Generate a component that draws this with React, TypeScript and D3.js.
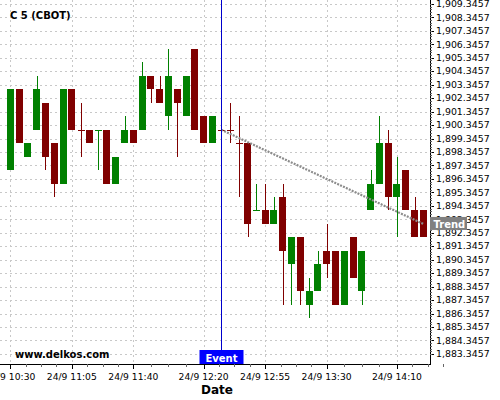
import React from "react";
import * as d3 from "d3";

// 5-minute candles, 24/9, C 5 (CBOT)
const times = [
  "10:30", "10:35", "10:40", "10:45", "10:50", "10:55", "11:00", "11:05",
  "11:10", "11:15", "11:20", "11:25", "11:30", "11:35", "11:40", "11:45",
  "11:50", "11:55", "12:00", "12:05", "12:10", "12:15", "12:20", "12:25",
  "12:30", "12:35", "12:40", "12:45", "12:50", "12:55", "13:00", "13:05",
  "13:10", "13:15", "13:20", "13:25", "13:30", "13:35", "13:40", "13:45",
  "13:50", "13:55", "14:00", "14:05", "14:10", "14:15", "14:20", "14:25",
];
const opens = [
  1897, 1903, 1898, 1900, 1902, 1899, 1896, 1903, 1900, 1900, 1900, 1900,
  1896, 1899, 1900, 1900, 1904, 1903, 1901, 1903, 1901, 1906, 1901, 1899,
  1900, 1900, 1899, 1899, 1894, 1894, 1893, 1895, 1890, 1892, 1887, 1888,
  1891, 1891, 1887, 1892, 1888, 1894, 1896, 1899, 1895, 1897, 1894, 1894,
];
const highs = [
  1903, 1903, 1899, 1904, 1902, 1899, 1903, 1903, 1902, 1900, 1900, 1900,
  1898, 1901, 1900, 1905, 1904, 1904, 1906, 1903, 1904, 1906, 1901, 1901,
  1900, 1902, 1901, 1899, 1896, 1896, 1895, 1896, 1892, 1892, 1889, 1891,
  1893, 1891, 1891, 1892, 1891, 1897, 1901, 1900, 1898, 1897, 1895, 1894,
];
const lows = [
  1897, 1899, 1898, 1900, 1897, 1895, 1896, 1900, 1898, 1899, 1897, 1896,
  1896, 1899, 1899, 1900, 1902, 1902, 1900, 1898, 1901, 1900, 1899, 1899,
  1900, 1899, 1895, 1892, 1894, 1893, 1893, 1887, 1887, 1887, 1886, 1888,
  1889, 1887, 1887, 1889, 1887, 1894, 1896, 1894, 1892, 1894, 1892, 1892,
];
const closes = [
  1903, 1899, 1899, 1903, 1898, 1896, 1903, 1900, 1900, 1899, 1900, 1896,
  1898, 1900, 1899, 1904, 1903, 1902, 1904, 1902, 1904, 1900, 1899, 1901,
  1900, 1900, 1899, 1893, 1894, 1893, 1894, 1891, 1892, 1888, 1888, 1890,
  1890, 1887, 1891, 1889, 1891, 1896, 1899, 1895, 1896, 1894, 1892, 1892,
];
// doji colour when open == close (true = up/green)
const dojiUp = { 10: true, 28: true };

const xTickLabels = ["10:30", "11:05", "11:40", "12:20", "12:55", "13:30", "14:10"];
const yTickValues = [
  1883.3457, 1884.3457, 1885.3457, 1886.3457, 1887.3457, 1888.3457, 1889.3457,
  1890.3457, 1891.3457, 1892.3457, 1893.3457, 1894.3457, 1895.3457, 1896.3457,
  1897.3457, 1898.3457, 1899.3457, 1900.3457, 1901.3457, 1902.3457, 1903.3457,
  1904.3457, 1905.3457, 1906.3457, 1907.3457, 1908.3457, 1909.3457,
];
const eventTime = "12:30";
const trendStart = { time: "12:30", value: 1900.0 };
const trendEnd = { time: "14:25", value: 1893.0 };

const parse = (s: string) => d3.timeParse("%Y-%m-%d %H:%M")("2014-09-24 " + s) as Date;

const GREEN = "#008000";
const RED = "#800000";
const FONT = "DejaVu Sans";

export default function App() {
  const width = 500;
  const height = 400;
  const plotRight = 430;
  const plotBottom = 364;

  const x = d3.scaleTime().domain([parse("10:30"), parse("14:25")]).range([10.3, 423.3]);
  const y = d3.scaleLinear().domain([1883.3457, 1909.3457]).range([353.9, 3.9]);

  const bodyW = 7;
  const fmt = d3.format(",.4f");

  const majors = xTickLabels.map(parse);
  const minors: Date[] = [];
  for (let i = 0; i < majors.length; i++) {
    const a = majors[i].getTime();
    const b = i < majors.length - 1 ? majors[i + 1].getTime() : a + 35 * 60000;
    for (let k = 1; k < 4; k++) minors.push(new Date(a + ((b - a) * k) / 4));
  }
  const yMinor = d3.range(1883.3457, 1909.35, 0.2).filter((v) => y(v) >= 0);

  const ex = Math.round(x(parse(eventTime))) + 0.5;

  return (
    <svg width={width} height={height} style={{ position: "absolute", left: 0, top: 0 }}>
      <rect x={0} y={0} width={width} height={height} fill="#fff" />
      {/* grid */}
      <g stroke="#c8c8c8" strokeDasharray="2,3" strokeWidth={1}>
        {yTickValues.map((v) => (
          <line key={v} x1={0} x2={plotRight} y1={Math.round(y(v)) + 0.5} y2={Math.round(y(v)) + 0.5} />
        ))}
        {majors.map((t, i) => (
          <line key={i} x1={Math.round(x(t)) + 0.5} x2={Math.round(x(t)) + 0.5} y1={0} y2={plotBottom} />
        ))}
      </g>
      {/* candles */}
      <g shapeRendering="crispEdges">
        {times.map((t, i) => {
          const cx = x(parse(t));
          const o = opens[i], c = closes[i];
          const up = c > o || (c === o && (dojiUp as any)[i]);
          const col = up ? GREEN : RED;
          const top = y(Math.max(o, c));
          const bot = y(Math.min(o, c));
          const wx = Math.round(cx) + 0.5;
          return (
            <g key={t}>
              <line x1={wx} x2={wx} y1={y(highs[i])} y2={y(lows[i])} stroke={col} strokeWidth={1} />
              {o === c ? (
                <rect x={Math.round(cx) - 3} y={Math.round(top) - 0.5} width={7} height={1.5} fill={col} />
              ) : (
                <rect x={Math.round(cx - bodyW / 2)} y={top} width={bodyW} height={bot - top} fill={col} />
              )}
            </g>
          );
        })}
      </g>
      {/* trend */}
      <line
        x1={x(parse(trendStart.time))}
        y1={y(trendStart.value)}
        x2={x(parse(trendEnd.time))}
        y2={y(trendEnd.value)}
        stroke="#8c8c8c"
        strokeWidth={2.2}
        strokeDasharray="2,1.2"
      />
      {/* event line */}
      <line x1={ex} x2={ex} y1={0} y2={plotBottom} stroke="#0000cc" strokeWidth={1} />
      {/* axes */}
      <g stroke="#000" shapeRendering="crispEdges">
        <line x1={0} x2={plotRight + 0.5} y1={plotBottom + 0.5} y2={plotBottom + 0.5} />
        <line x1={plotRight + 0.5} x2={plotRight + 0.5} y1={0} y2={plotBottom + 0.5} />
        {majors.map((t, i) => (
          <line key={"M" + i} x1={Math.round(x(t)) + 0.5} x2={Math.round(x(t)) + 0.5} y1={plotBottom} y2={plotBottom + 5} />
        ))}
        {minors.map((t, i) => (
          <line key={"m" + i} x1={Math.round(x(t)) + 0.5} x2={Math.round(x(t)) + 0.5} y1={plotBottom} y2={plotBottom + 3} stroke="#666" />
        ))}
        {yTickValues.map((v) => (
          <line key={"Y" + v} x1={plotRight} x2={plotRight + 4} y1={Math.round(y(v)) + 0.5} y2={Math.round(y(v)) + 0.5} />
        ))}
        {yMinor.map((v, i) => (
          <line key={"y" + i} x1={plotRight} x2={plotRight + 2} y1={Math.round(y(v)) + 0.5} y2={Math.round(y(v)) + 0.5} stroke="#666" />
        ))}
      </g>
      {/* y labels */}
      <g fontFamily={FONT} fontSize={9.4} fill="#000">
        {yTickValues.map((v) => (
          <text key={v} x={436} y={y(v)} dy="0.35em">
            {fmt(v)}
          </text>
        ))}
      </g>
      {/* x labels */}
      <g fontFamily={FONT} fontSize={9.2} fill="#000" textAnchor="middle">
        {majors.map((t, i) => (
          <text key={i} x={x(t)} y={380}>
            {"24/9 " + xTickLabels[i]}
          </text>
        ))}
      </g>
      <text x={217} y={393.5} fontFamily={FONT} fontSize={12} fontWeight="bold" textAnchor="middle">
        Date
      </text>
      <text x={10} y={18.5} fontFamily={FONT} fontSize={10} fontWeight="bold">
        C 5 (CBOT)
      </text>
      <text x={15} y={357.5} fontFamily={FONT} fontSize={10} fontWeight="bold">
        www.delkos.com
      </text>
      {/* event label */}
      <rect x={ex - 22} y={350} width={44} height={14} fill="#0000ff" />
      <text x={ex} y={361.5} fontFamily={FONT} fontSize={10} fontWeight="bold" fill="#fff" textAnchor="middle">
        Event
      </text>
      {/* trend label */}
      <rect x={plotRight} y={y(trendEnd.value) - 7} width={37} height={13} fill="#808080" />
      <text x={433.5} y={y(trendEnd.value) + 3.6} fontFamily={FONT} fontSize={10} fontWeight="bold" fill="#fff">
        Trend
      </text>
    </svg>
  );
}
